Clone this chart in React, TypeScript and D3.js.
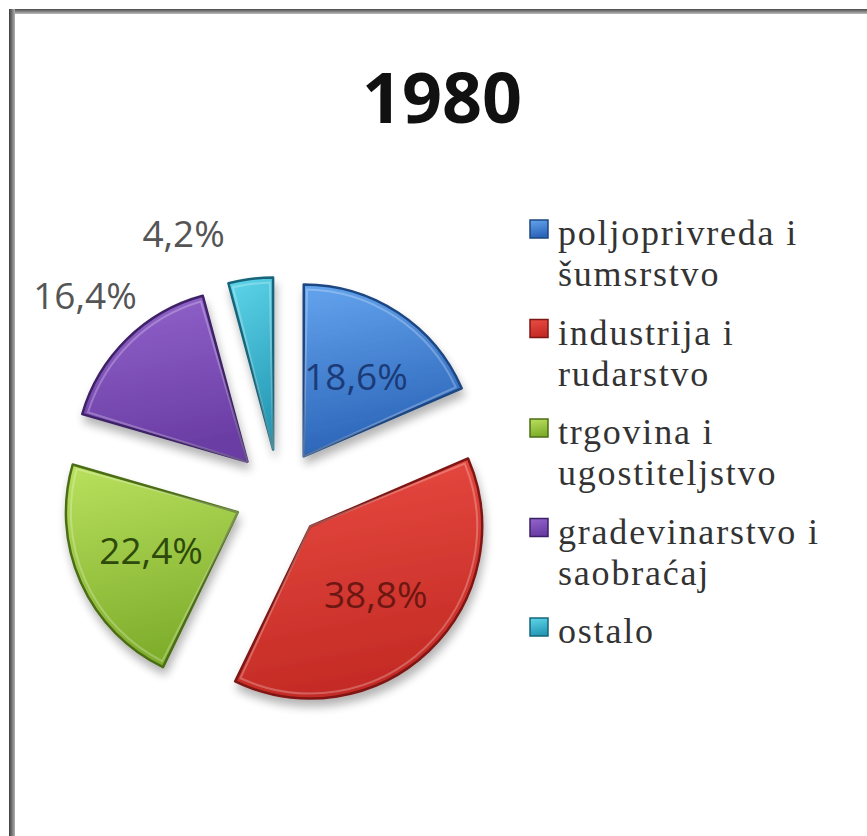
import React from "react";
import * as d3 from "d3";

// Share of employment by sector, 1980
const categories = [
  ["poljoprivreda i", "šumsrstvo"],
  ["industrija i", "rudarstvo"],
  ["trgovina i", "ugostiteljstvo"],
  ["gradevinarstvo i", "saobraćaj"],
  ["ostalo"],
];
const values = [18.6, 38.8, 22.4, 16.4, 4.2];
const valueLabels = ["18,6%", "38,8%", "22,4%", "16,4%", "4,2%"];
const title = "1980";

// top / bottom gradient stops, outline and label ink per slice
const lightColors = ["#64a4ee", "#ea4c42", "#b9e15e", "#9264cc", "#5fd6ea"];
const darkColors = ["#2b64b8", "#c42b25", "#7fae2c", "#6a3da4", "#2699b6"];
const edgeColors = ["#1d4680", "#7e1713", "#4c6d14", "#3d2166", "#16657a"];
const labelInk = ["#1b3b78", "#6d1712", "#2d4a0c", "#555555", "#555555"];

const W = 867;
const H = 836;
const cx = 279;
const cy = 494;
const R = 172;
const explode = 45;

export default function App() {
  const pie = d3
    .pie<number>()
    .sort(null)
    .value((d) => d)
    .startAngle(0)
    .endAngle(2 * Math.PI);
  const arcs = pie(values);
  const arc = d3.arc<d3.PieArcDatum<number>>().innerRadius(0).outerRadius(R);
  const labelArc = d3
    .arc<d3.PieArcDatum<number>>()
    .innerRadius(0)
    .outerRadius(190);

  const mid = (a: d3.PieArcDatum<number>) => (a.startAngle + a.endAngle) / 2;
  const off = (a: d3.PieArcDatum<number>) => {
    const m = mid(a);
    return [explode * Math.sin(m), -explode * Math.cos(m)];
  };

  // small slices keep their labels outside the pie
  const outside = (i: number) => values[i] < 17;
  const outsideRadius = 277;
  const nudge = (i: number) => (values[i] < 5 ? -0.22 : 0);

  const legendX = 530;
  const legendTop = 245;
  const itemPitch = 99.5;
  const linePitch = 41;

  return (
    <svg
      width={W}
      height={H}
      style={{ position: "absolute", left: 0, top: 0, background: "#fff" }}
    >
      <defs>
        {arcs.map((_, i) => (
          <linearGradient key={i} id={`g${i}`} x1="0" y1="0" x2="0.2" y2="1">
            <stop offset="0" stopColor={lightColors[i]} />
            <stop offset="1" stopColor={darkColors[i]} />
          </linearGradient>
        ))}
        <filter id="shadow" x="-30%" y="-30%" width="160%" height="160%">
          <feGaussianBlur in="SourceAlpha" stdDeviation="5" />
          <feOffset dx="2" dy="7" result="b" />
          <feComponentTransfer>
            <feFuncA type="linear" slope="0.3" />
          </feComponentTransfer>
          <feMerge>
            <feMergeNode />
            <feMergeNode in="SourceGraphic" />
          </feMerge>
        </filter>
        <linearGradient id="frameL" x1="0" x2="1" y1="0" y2="0">
          <stop offset="0" stopColor="#3c3c3c" />
          <stop offset="1" stopColor="#b0b0b0" />
        </linearGradient>
        <linearGradient id="frameT" x1="0" x2="0" y1="0" y2="1">
          <stop offset="0" stopColor="#4a4a4a" />
          <stop offset="1" stopColor="#bdbdbd" />
        </linearGradient>
      </defs>

      {/* frame */}
      <rect x={9} y={9} width={W - 9} height={5} fill="url(#frameT)" />
      <rect x={9} y={9} width={6} height={H - 9} fill="url(#frameL)" />

      <text
        x={442}
        y={123}
        textAnchor="middle"
        fontFamily="'Open Sans', 'Liberation Sans', sans-serif"
        fontWeight={700}
        fontSize={70}
        fill="#111"
      >
        {title}
      </text>

      {/* slices */}
      {arcs.map((a, i) => {
        const [dx, dy] = off(a);
        return (
          <g
            key={i}
            transform={`translate(${cx + dx},${cy + dy})`}
            filter="url(#shadow)"
          >
            <path
              d={arc(a) ?? ""}
              fill={`url(#g${i})`}
              stroke={edgeColors[i]}
              strokeWidth={2.5}
              strokeLinejoin="round"
            />
            <path
              d={
                d3
                  .arc<d3.PieArcDatum<number>>()
                  .innerRadius(0)
                  .outerRadius(R - 5)({
                  ...a,
                  startAngle: a.startAngle + 0.02,
                  endAngle: a.endAngle - 0.02,
                }) ?? ""
              }
              fill="none"
              stroke="#ffffff"
              strokeOpacity={0.25}
              strokeWidth={2}
            />
          </g>
        );
      })}

      {/* value labels */}
      {arcs.map((a, i) => {
        let x: number;
        let y: number;
        if (outside(i)) {
          const m = mid(a) + nudge(i);
          x = cx + outsideRadius * Math.sin(m);
          y = cy - outsideRadius * Math.cos(m);
        } else {
          const [dx, dy] = off(a);
          const [lx, ly] = labelArc.centroid(a);
          x = cx + dx + lx;
          y = cy + dy + ly;
        }
        return (
          <text
            key={i}
            x={x}
            y={y + 13}
            textAnchor="middle"
            fontFamily="'Open Sans', 'Liberation Sans', sans-serif"
            fontSize={37}
            fill={labelInk[i]}
          >
            {valueLabels[i]}
          </text>
        );
      })}

      {/* legend */}
      {categories.map((lines, i) => {
        const base = legendTop + i * itemPitch;
        return (
          <g key={i}>
            <rect
              x={legendX}
              y={base - 25}
              width={18}
              height={18}
              fill={`url(#g${i})`}
              stroke={edgeColors[i]}
              strokeWidth={1.5}
            />
            {lines.map((t, j) => (
              <text
                key={j}
                x={legendX + 28}
                y={base + j * linePitch}
                fontFamily="'Liberation Serif', 'DejaVu Serif', serif"
                fontSize={36}
                letterSpacing={1.8}
                fill="#333"
              >
                {t}
              </text>
            ))}
          </g>
        );
      })}
    </svg>
  );
}
